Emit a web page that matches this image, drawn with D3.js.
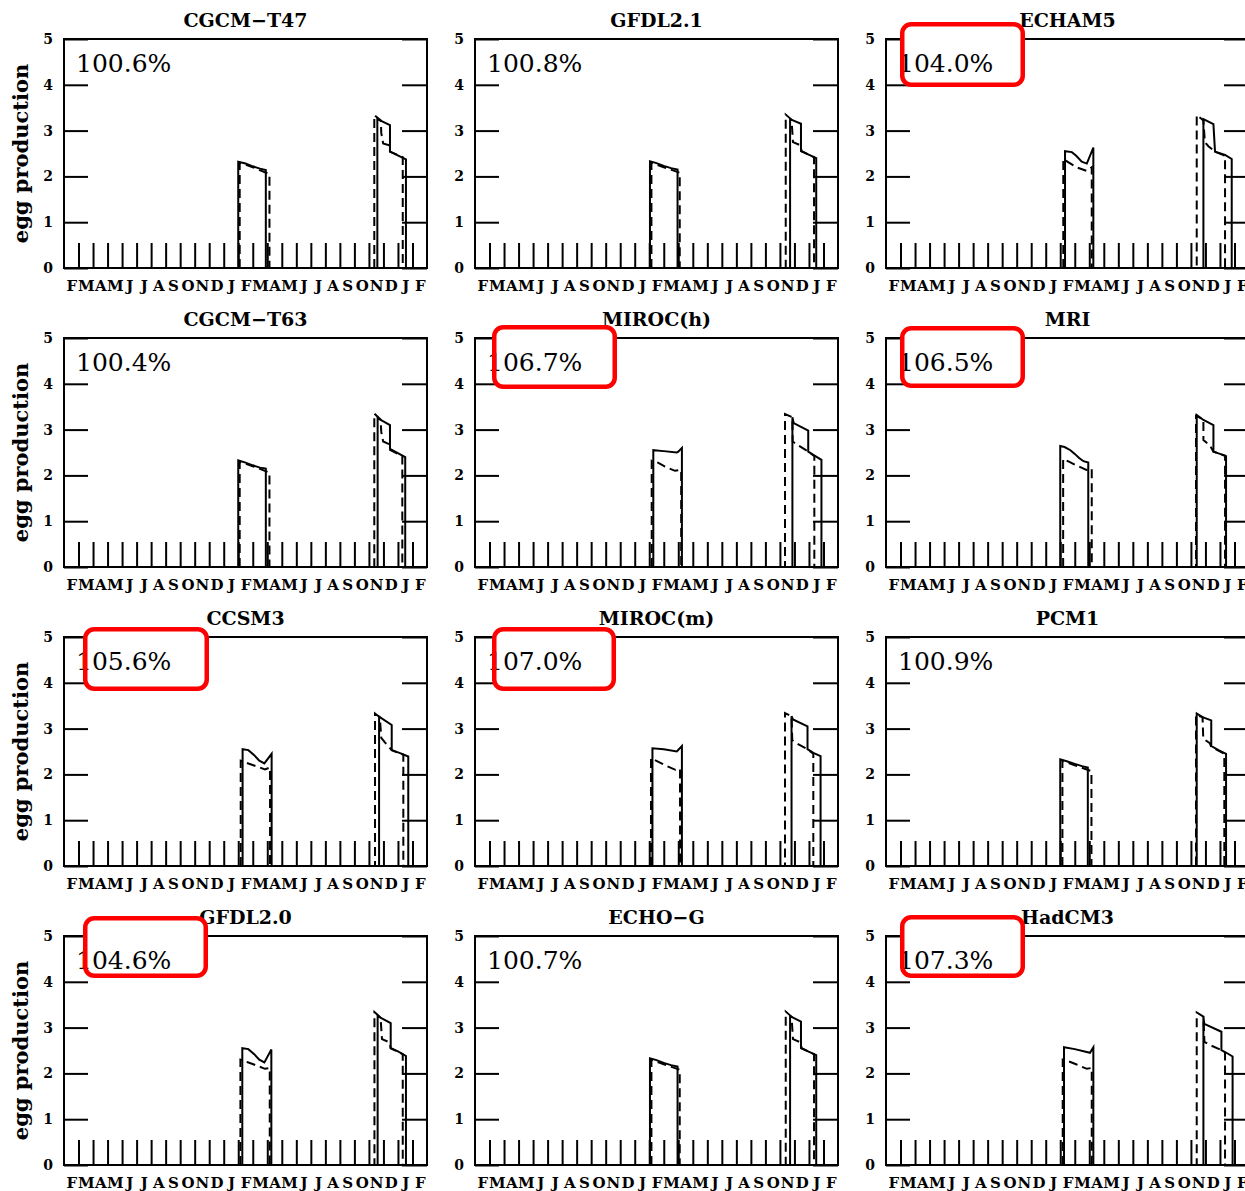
<!DOCTYPE html>
<html>
<head>
<meta charset="utf-8">
<script src="https://cdn.jsdelivr.net/npm/d3@7"></script>
<style>
  body { margin: 0; background: #fff; }
  svg { display: block; }
  .tick text { font-family: "DejaVu Serif", serif; font-weight: bold; }
</style>
</head>
<body>
<div id="container"></div>
<script>
// model names and the percent printed in each panel
var models = ["CGCM\u2212T47", "GFDL2.1", "ECHAM5",
              "CGCM\u2212T63", "MIROC(h)", "MRI",
              "CCSM3", "MIROC(m)", "PCM1",
              "GFDL2.0", "ECHO\u2212G", "HadCM3"];
var percents = ["100.6%", "100.8%", "104.0%",
                "100.4%", "106.7%", "106.5%",
                "105.6%", "107.0%", "100.9%",
                "104.6%", "100.7%", "107.3%"];
var highlighted = [false, false, true, false, true, true, true, true, false, true, false, true];

var monthLabels = ["F","M","A","M","J","J","A","S","O","N","D","J",
                   "F","M","A","M","J","J","A","S","O","N","D","J","F"];
var yTicks = [0, 1, 2, 3, 4, 5];
var monthTicks = d3.range(1, 25);

// [month, egg production] -- solid curve of each panel
var solidSeries = [
  [[12.0,0],[12.0,2.32],[12.5,2.28],[13.0,2.22],[13.5,2.17],[13.9,2.14],[13.9,0],[21.58,0],[21.58,3.25],[22.45,3.12],[22.45,2.54],[23.55,2.37],[23.55,0]],
  [[12.05,0],[12.05,2.33],[12.5,2.29],[13.0,2.23],[13.5,2.18],[13.95,2.15],[13.95,0],[21.7,0],[21.7,3.25],[22.45,3.15],[22.45,2.55],[23.5,2.4],[23.5,0]],
  [[12.33,0],[12.33,2.55],[12.8,2.53],[13.1,2.45],[13.48,2.32],[13.83,2.28],[14.28,2.63],[14.28,0],[21.86,0],[21.86,3.25],[22.55,3.14],[22.66,2.54],[23.35,2.47],[23.81,2.38],[23.81,0]],
  [[12.0,0],[12.0,2.33],[12.5,2.28],[13.0,2.22],[13.5,2.17],[13.9,2.15],[13.9,0],[21.6,0],[21.6,3.25],[22.45,3.1],[22.45,2.58],[23.5,2.4],[23.5,0]],
  [[12.28,0],[12.28,2.55],[13.0,2.53],[13.89,2.5],[14.0,2.52],[14.25,2.6],[14.25,0],[21.86,0],[21.86,3.27],[21.95,3.14],[22.95,2.98],[22.95,2.52],[23.3,2.45],[23.86,2.34],[23.86,0]],
  [[12.0,0],[12.0,2.64],[12.3,2.62],[12.7,2.55],[13.0,2.47],[13.3,2.38],[13.6,2.31],[13.93,2.28],[13.93,0],[21.4,0],[21.4,3.32],[21.86,3.21],[22.55,3.1],[22.55,2.52],[23.0,2.47],[23.42,2.42],[23.42,0]],
  [[12.3,0],[12.3,2.55],[12.7,2.53],[13.1,2.42],[13.45,2.3],[13.8,2.24],[14.3,2.45],[14.3,0],[21.7,0],[21.7,3.26],[22.57,3.08],[22.57,2.53],[23.1,2.47],[23.71,2.39],[23.71,0]],
  [[12.22,0],[12.22,2.57],[13.0,2.55],[13.9,2.5],[14.25,2.62],[14.25,0],[21.8,0],[21.8,3.27],[21.9,3.2],[22.9,3.05],[22.9,2.55],[23.3,2.47],[23.8,2.4],[23.8,0]],
  [[12.0,0],[12.0,2.33],[12.5,2.28],[13.0,2.23],[13.5,2.18],[13.9,2.15],[13.9,0],[21.4,0],[21.4,3.33],[21.8,3.25],[22.4,3.18],[22.4,2.62],[22.9,2.53],[23.42,2.45],[23.42,0]],
  [[12.28,0],[12.28,2.55],[12.7,2.53],[13.1,2.42],[13.45,2.3],[13.8,2.24],[14.28,2.52],[14.28,0],[21.6,0],[21.6,3.25],[22.5,3.1],[22.5,2.55],[23.0,2.48],[23.55,2.38],[23.55,0]],
  [[12.05,0],[12.05,2.33],[12.5,2.29],[13.0,2.23],[13.5,2.18],[13.95,2.15],[13.95,0],[21.7,0],[21.7,3.25],[22.45,3.13],[22.45,2.55],[23.5,2.4],[23.5,0]],
  [[12.26,0],[12.26,2.57],[13.0,2.53],[14.05,2.45],[14.28,2.57],[14.28,0],[21.86,0],[21.86,3.24],[21.92,3.08],[23.1,2.91],[23.1,2.51],[23.5,2.44],[23.87,2.37],[23.87,0]]
];

// dashed curve of each panel
var dashedSeries = [
  [[12.1,0],[12.1,2.3],[13.0,2.2],[14.15,2.05],[14.15,0],[21.37,0],[21.37,3.34],[21.82,3.22],[21.85,2.95],[21.98,2.72],[22.4,2.68],[22.45,2.54],[23.33,2.42],[23.33,0]],
  [[12.15,0],[12.15,2.3],[13.0,2.2],[14.1,2.08],[14.1,0],[21.4,0],[21.4,3.35],[21.8,3.24],[21.9,2.75],[22.4,2.68],[22.5,2.55],[23.35,2.42],[23.35,0]],
  [[12.21,0],[12.21,2.38],[12.6,2.3],[13.1,2.2],[13.83,2.12],[14.17,2.2],[14.17,0],[21.4,0],[21.4,3.34],[21.86,3.22],[21.96,2.75],[22.2,2.66],[22.66,2.54],[23.35,2.45],[23.35,0]],
  [[12.1,0],[12.1,2.3],[13.0,2.2],[14.15,2.06],[14.15,0],[21.37,0],[21.37,3.35],[21.8,3.22],[21.85,2.95],[21.98,2.74],[22.4,2.68],[22.45,2.56],[23.3,2.42],[23.3,0]],
  [[12.17,0],[12.17,2.32],[12.6,2.28],[13.09,2.19],[13.77,2.1],[14.2,2.12],[14.2,0],[21.35,0],[21.35,3.34],[21.86,3.27],[21.88,2.74],[22.25,2.66],[22.95,2.52],[23.37,2.42],[23.37,0]],
  [[12.2,0],[12.2,2.36],[12.6,2.3],[13.1,2.22],[13.8,2.12],[14.17,2.15],[14.17,0],[21.35,0],[21.35,3.3],[21.86,3.22],[21.86,2.77],[22.3,2.66],[22.55,2.52],[23.35,2.43],[23.35,0]],
  [[12.17,0],[12.17,2.3],[12.6,2.25],[13.04,2.2],[13.84,2.11],[14.19,2.15],[14.19,0],[21.42,0],[21.42,3.33],[21.75,3.25],[21.85,2.8],[22.1,2.7],[22.57,2.53],[23.37,2.43],[23.37,0]],
  [[12.12,0],[12.12,2.35],[12.6,2.28],[13.1,2.2],[13.8,2.1],[14.12,2.12],[14.12,0],[21.35,0],[21.35,3.34],[21.8,3.27],[21.85,2.75],[22.2,2.67],[22.9,2.55],[23.3,2.45],[23.3,0]],
  [[12.15,0],[12.15,2.3],[13.0,2.2],[14.15,2.07],[14.15,0],[21.35,0],[21.35,3.3],[21.8,3.25],[21.85,2.78],[22.3,2.68],[22.4,2.6],[23.3,2.45],[23.3,0]],
  [[12.15,0],[12.15,2.3],[12.6,2.25],[13.04,2.2],[13.84,2.1],[14.17,2.12],[14.17,0],[21.38,0],[21.38,3.34],[21.8,3.22],[21.9,2.75],[22.4,2.68],[22.5,2.55],[23.33,2.42],[23.33,0]],
  [[12.15,0],[12.15,2.3],[13.0,2.2],[14.1,2.08],[14.1,0],[21.4,0],[21.4,3.35],[21.8,3.24],[21.9,2.75],[22.4,2.68],[22.5,2.55],[23.35,2.42],[23.35,0]],
  [[12.17,0],[12.17,2.3],[12.6,2.26],[13.09,2.2],[13.83,2.1],[14.17,2.12],[14.17,0],[21.4,0],[21.4,3.33],[21.86,3.24],[21.93,2.69],[22.3,2.62],[23.1,2.51],[23.35,2.45],[23.35,0]]
];

// red annotation boxes: offset from the panel's top-left corner (outer edge), size
var boxLayout = {
  2: {dx: 14, dy: -17, w: 125, h: 65},
  4: {dx: 17, dy: -13, w: 125, h: 64},
  5: {dx: 14, dy: -12, w: 125, h: 62},
  6: {dx: 19, dy: -10, w: 126, h: 64},
  7: {dx: 17, dy: -10, w: 124, h: 64},
  9: {dx: 19, dy: -20, w: 125, h: 62},
  11: {dx: 14, dy: -21, w: 125, h: 63}
};

var width = 1245;
var height = 1191;
var plotW = 363, plotH = 229;
var left0 = 64, top0 = 39, stepX = 411, stepY = 299;
var font = "'DejaVu Serif', serif";

var svg = d3.select("#container")
            .append("svg")
            .attr("width", width)
            .attr("height", height);

var x = d3.scaleLinear().domain([0, 25]).range([0, plotW]);
var y = d3.scaleLinear().domain([0, 5]).range([plotH, 0]);

var line = d3.line()
             .x(d => x(d[0]))
             .y(d => y(d[1]));

models.forEach(function (name, i) {
    var col = i % 3, row = Math.floor(i / 3);
    var px = left0 + col * stepX, py = top0 + row * stepY;

    var g = svg.append("g")
               .attr("transform", "translate(" + px + "," + py + ")");

    // axes: inward ticks left/right, short month ticks at the bottom
    var yLeft = g.append("g")
                 .call(d3.axisLeft(y).tickValues(yTicks).tickFormat(d3.format("d"))
                         .tickSizeInner(-24).tickSizeOuter(0).tickPadding(11));
    yLeft.selectAll("text").style("font-size", "14px");

    var yRight = g.append("g")
                  .attr("transform", "translate(" + plotW + ",0)")
                  .call(d3.axisRight(y).tickValues(yTicks).tickSizeInner(-25).tickSizeOuter(0).tickFormat(""));

    var xTicks = g.append("g")
                  .attr("transform", "translate(0," + plotH + ")")
                  .call(d3.axisBottom(x).tickValues(monthTicks).tickSizeInner(-25).tickSizeOuter(0).tickFormat(""));

    var xLabels = g.append("g")
                   .attr("transform", "translate(0," + plotH + ")")
                   .call(d3.axisBottom(x)
                           .tickValues(d3.range(monthLabels.length).map(k => k + 0.5))
                           .tickSize(0).tickPadding(12)
                           .tickFormat((d, k) => monthLabels[k]));
    xLabels.selectAll("text").style("font-size", "15px");

    [yLeft, yRight, xTicks, xLabels].forEach(function (a) {
        a.select(".domain").remove();
        a.selectAll("line").attr("stroke", "#000").attr("stroke-width", 2);
        a.selectAll("text").attr("fill", "#000");
    });

    // frame
    g.append("rect")
     .attr("width", plotW)
     .attr("height", plotH)
     .attr("fill", "none")
     .attr("stroke", "#000")
     .attr("stroke-width", 2);

    // curves
    g.append("path")
     .datum(dashedSeries[i])
     .attr("d", line)
     .attr("fill", "none")
     .attr("stroke", "#000")
     .attr("stroke-width", 2)
     .attr("stroke-dasharray", "9,5");

    g.append("path")
     .datum(solidSeries[i])
     .attr("d", line)
     .attr("fill", "none")
     .attr("stroke", "#000")
     .attr("stroke-width", 2);

    // title
    g.append("text")
     .attr("x", plotW / 2)
     .attr("y", -12)
     .attr("text-anchor", "middle")
     .style("font-family", font)
     .style("font-weight", "bold")
     .style("font-size", "19px")
     .text(name);

    // white box under the highlighted percentages
    var box = boxLayout[i];
    if (highlighted[i] && box) {
        g.append("rect")
         .attr("x", box.dx + 2.25).attr("y", box.dy + 2.25)
         .attr("width", box.w - 4.5).attr("height", box.h - 4.5)
         .attr("rx", 9)
         .attr("fill", "#fff");
    }

    g.append("text")
     .attr("x", 12)
     .attr("y", 33)
     .style("font-family", font)
     .style("font-size", "25px")
     .text(percents[i]);

    if (highlighted[i] && box) {
        g.append("rect")
         .attr("x", box.dx + 2.25).attr("y", box.dy + 2.25)
         .attr("width", box.w - 4.5).attr("height", box.h - 4.5)
         .attr("rx", 9)
         .attr("fill", "none")
         .attr("stroke", "#ff0000")
         .attr("stroke-width", 4.5);
    }

    // y label on the first column only
    if (col === 0) {
        g.append("text")
         .attr("transform", "translate(" + (21 - left0) + "," + (plotH / 2) + ") rotate(-90)")
         .attr("text-anchor", "middle")
         .attr("dy", "0.35em")
         .style("font-family", font)
         .style("font-weight", "bold")
         .style("font-size", "21px")
         .text("egg production");
    }
});
</script>
</body>
</html>
